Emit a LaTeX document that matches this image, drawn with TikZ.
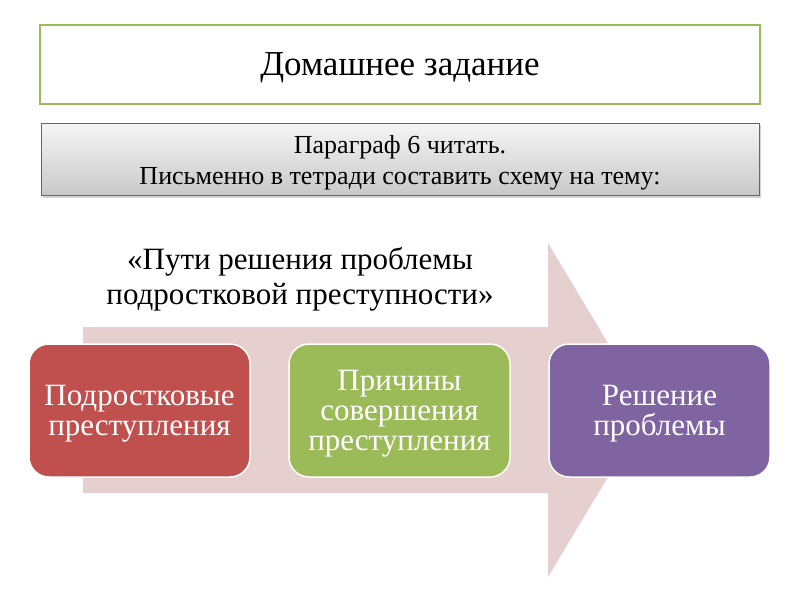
\documentclass[tikz,border=0pt]{standalone}
\usepackage{fontspec}
\setmainfont{Liberation Serif}
\usetikzlibrary{shadows}
\definecolor{hwgreen}{RGB}{155,187,89}
\definecolor{boxred}{RGB}{192,80,77}
\definecolor{boxgreen}{RGB}{155,187,89}
\definecolor{boxpurple}{RGB}{128,100,162}
\definecolor{arrowpink}{RGB}{230,207,207}
\definecolor{graytop}{RGB}{245,245,245}
\definecolor{graybot}{RGB}{200,200,200}
\begin{document}
\begin{tikzpicture}[x=1pt,y=-1pt,
  stepbox/.style={rounded corners=20pt, draw=white, line width=1.5pt, minimum width=221pt, minimum height=133pt, inner sep=0pt, text=white, align=center, text depth=0pt, font=\fontsize{31}{30}\selectfont},
  headbox/.style={draw=hwgreen, line width=2.5pt, fill=white, inner sep=0pt, text depth=0pt}
]
\useasboundingbox (0,0) rectangle (800,600);
\fill[white] (0,0) rectangle (800,600);
\node[headbox, minimum width=720pt, minimum height=79pt, font=\fontsize{35}{40}\selectfont] (hw) at (400,64.5) {Домашнее задание};
\node[draw=black!60, line width=1pt, top color=graytop, bottom color=graybot, drop shadow={opacity=0.35, shadow xshift=1.5pt, shadow yshift=-2pt}, minimum width=718pt, minimum height=72.5pt, inner sep=0pt, align=center, text depth=0pt, font=\fontsize{26}{31}\selectfont] (task) at (400,159.7) {Параграф 6 читать.\\Письменно в тетради составить схему на тему:};
\fill[arrowpink] (83,327) -- (548,327) -- (548,243) -- (648,410) -- (548,577) -- (548,493) -- (83,493) -- cycle;
\node[align=center, inner sep=0pt, text depth=0pt, font=\fontsize{31}{35}\selectfont] (title) at (300,276) {«Пути решения проблемы\\подростковой преступности»};
\node[stepbox, fill=boxred] (s1) at (139.5,410.5) {Подростковые\\преступления};
\node[stepbox, fill=boxgreen] (s2) at (399.5,410.5) {Причины\\совершения\\преступления};
\node[stepbox, fill=boxpurple] (s3) at (659.5,410.5) {Решение\\проблемы};
\end{tikzpicture}
\end{document}
